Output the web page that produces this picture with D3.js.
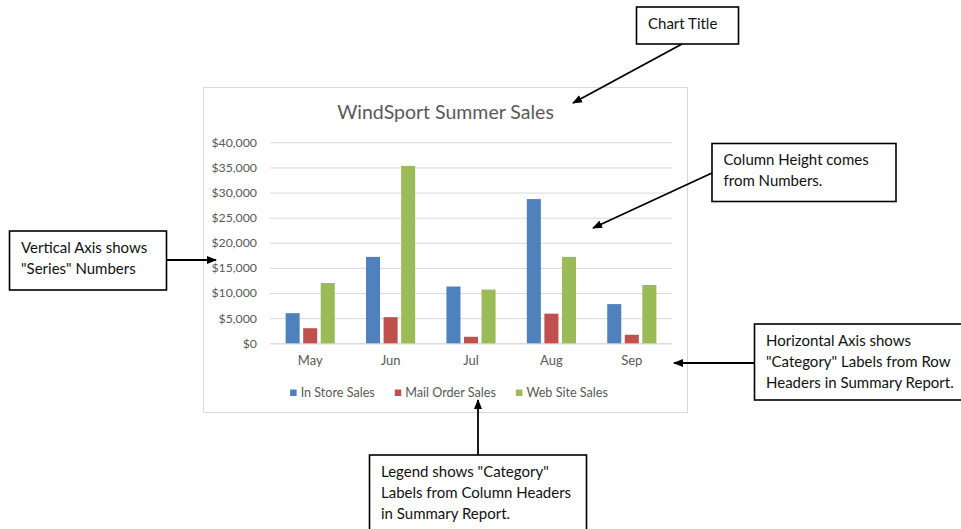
<!DOCTYPE html>
<html>
<head>
<meta charset="utf-8">
<script src="https://cdn.jsdelivr.net/npm/d3@7"></script>
<style>
  body { margin: 0; background: #fff; }
  text { font-family: Lato, "Open Sans", sans-serif; }
</style>
</head>
<body>
<div id="chart"></div>
<script>
// chart data
var months = ["May", "Jun", "Jul", "Aug", "Sep"];
var seriesNames = ["In Store Sales", "Mail Order Sales", "Web Site Sales"];
var inStore = [6000, 17200, 11300, 28700, 7800];
var mailOrder = [3000, 5200, 1300, 5900, 1700];
var webSite = [12000, 35300, 10700, 17200, 11600];
var yTicks = [0, 5000, 10000, 15000, 20000, 25000, 30000, 35000, 40000];
var palate = ["#4F81BD", "#C0504D", "#9BBB59"];

var seriesValues = [inStore, mailOrder, webSite];

var svg = d3.select("#chart").append("svg")
	.attr("width", 961)
	.attr("height", 529);

// arrow head marker
svg.append("defs").append("marker")
	.attr("id", "arrow")
	.attr("viewBox", "0 0 10 10")
	.attr("refX", 9)
	.attr("refY", 5)
	.attr("markerUnits", "userSpaceOnUse")
	.attr("markerWidth", 10)
	.attr("markerHeight", 10)
	.attr("orient", "auto")
	.append("path")
	.attr("d", "M0,1 L10,5 L0,9 Z")
	.attr("fill", "#000");

// chart frame
svg.append("rect")
	.attr("x", 203.5)
	.attr("y", 87.5)
	.attr("width", 484)
	.attr("height", 325)
	.attr("fill", "#fff")
	.attr("stroke", "#D9D9D9");

var plot = {left: 270, right: 672, top: 142.3, bottom: 343.3};

// scales
var x0 = d3.scaleBand()
	.domain(months)
	.range([plot.left, plot.right]);

var x1 = d3.scaleBand()
	.domain(seriesNames)
	.range([0, x0.bandwidth()])
	.paddingInner(0.2)
	.paddingOuter(0.89);

var y = d3.scaleLinear()
	.domain([0, 40000])
	.range([plot.bottom, plot.top]);

// title
svg.append("text")
	.attr("x", 445.5)
	.attr("y", 118.5)
	.attr("text-anchor", "middle")
	.attr("font-size", "19.5px")
	.attr("fill", "#595959")
	.text("WindSport Summer Sales");

// y axis with gridlines
var yAxisCall = d3.axisLeft(y)
	.tickValues(yTicks)
	.tickSize(-(plot.right - plot.left))
	.tickPadding(13)
	.tickFormat(function(d){ return "$" + d3.format(",")(d); });

var yAxis = svg.append("g")
	.attr("class", "y-axis")
	.attr("transform", "translate(" + plot.left + ",0)")
	.call(yAxisCall);
yAxis.select(".domain").remove();
yAxis.selectAll("line").attr("stroke", "#D9D9D9");
yAxis.selectAll("text")
	.attr("fill", "#595959")
	.attr("font-size", "12.3px")
	.attr("font-family", "Lato, sans-serif");

// x axis
var xAxisCall = d3.axisBottom(x0)
	.tickSize(0)
	.tickPadding(12.5);

var xAxis = svg.append("g")
	.attr("class", "x-axis")
	.attr("transform", "translate(0," + plot.bottom + ")")
	.call(xAxisCall);
xAxis.select(".domain").attr("stroke", "#D9D9D9");
xAxis.selectAll("text")
	.attr("fill", "#595959")
	.attr("font-size", "13px")
	.attr("font-family", "Lato, sans-serif");

// bars
var groups = svg.append("g").selectAll("g")
	.data(months)
	.enter().append("g")
	.attr("transform", function(d){ return "translate(" + x0(d) + ",0)"; });

groups.selectAll("rect")
	.data(function(m, i){
		return seriesNames.map(function(s, j){ return {series: s, value: seriesValues[j][i], idx: j}; });
	})
	.enter().append("rect")
	.attr("x", function(d){ return x1(d.series); })
	.attr("y", function(d){ return y(d.value); })
	.attr("width", x1.bandwidth())
	.attr("height", function(d){ return plot.bottom - y(d.value); })
	.attr("fill", function(d){ return palate[d.idx]; });

// legend
var legend = svg.append("g");
var lx = 0;
seriesNames.forEach(function(name, i){
	var row = legend.append("g").attr("transform", "translate(" + lx + ",0)");
	row.append("rect")
		.attr("x", 0)
		.attr("y", -7)
		.attr("width", 6.5)
		.attr("height", 6.5)
		.attr("fill", palate[i]);
	var t = row.append("text")
		.attr("x", 10.5)
		.attr("y", 0)
		.attr("font-size", "12.6px")
		.attr("fill", "#595959")
		.text(name);
	lx += 10.5 + t.node().getComputedTextLength() + 20;
});
lx -= 20;
legend.attr("transform", "translate(" + (449 - lx / 2) + ",396.5)");

// annotation boxes
var notes = [
	{x: 636.5, y: 7, w: 102, h: 37, lines: ["Chart Title"]},
	{x: 712, y: 143.5, w: 184, h: 58, lines: ["Column Height comes", "from Numbers."]},
	{x: 9.5, y: 231, w: 157, h: 59, lines: ["Vertical Axis shows", "\"Series\" Numbers"]},
	{x: 754.5, y: 324, w: 210, h: 76, lines: ["Horizontal Axis shows", "\"Category\" Labels from Row", "Headers in Summary Report."]},
	{x: 369.5, y: 455, w: 217, h: 80, lines: ["Legend shows \"Category\"", "Labels from Column Headers", "in Summary Report."]}
];

notes.forEach(function(n){
	svg.append("rect")
		.attr("x", n.x)
		.attr("y", n.y)
		.attr("width", n.w)
		.attr("height", n.h)
		.attr("fill", "#fff")
		.attr("stroke", "#000")
		.attr("stroke-width", 1.6);
	n.lines.forEach(function(line, i){
		svg.append("text")
			.attr("x", n.x + 11.5)
			.attr("y", n.y + 21.5 + i * 21)
			.attr("font-size", "15px")
			.attr("fill", "#111")
			.text(line);
	});
});

// arrows
var arrows = [
	[682, 44, 573, 103],
	[712, 173, 593, 228],
	[166.5, 260, 216, 260],
	[754.5, 363, 674, 363],
	[478, 455, 478, 400]
];

svg.selectAll(".arrow")
	.data(arrows)
	.enter().append("line")
	.attr("class", "arrow")
	.attr("x1", function(d){ return d[0]; })
	.attr("y1", function(d){ return d[1]; })
	.attr("x2", function(d){ return d[2]; })
	.attr("y2", function(d){ return d[3]; })
	.attr("stroke", "#000")
	.attr("stroke-width", 1.8)
	.attr("marker-end", "url(#arrow)");
</script>
</body>
</html>
